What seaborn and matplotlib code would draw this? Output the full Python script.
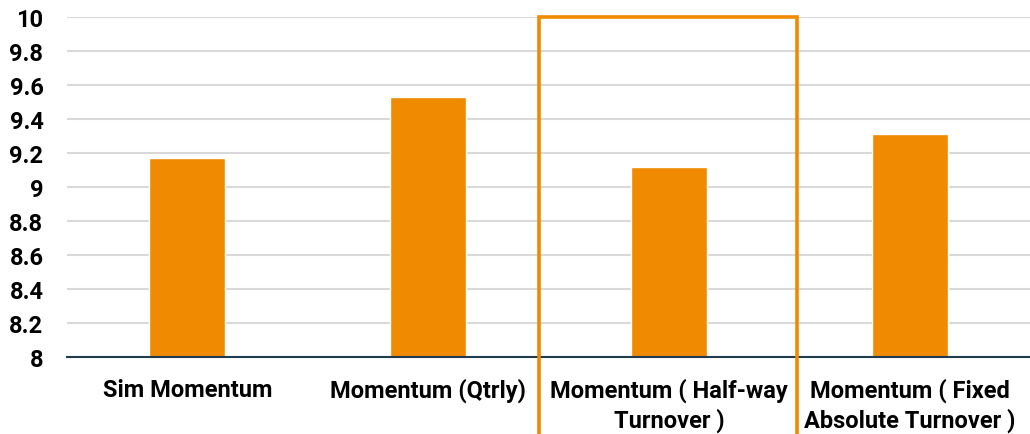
import matplotlib
matplotlib.use("Agg")
import matplotlib.pyplot as plt
from matplotlib.patches import Rectangle
import seaborn as sns
import pandas as pd

categories = [
    "Sim Momentum",
    "Momentum (Qtrly)",
    "Momentum ( Half-way\nTurnover )",
    "Momentum ( Fixed\nAbsolute Turnover )",
]
values = [9.17, 9.53, 9.12, 9.31]
y_ticks = [8, 8.2, 8.4, 8.6, 8.8, 9, 9.2, 9.4, 9.6, 9.8, 10]
y_tick_labels = ["8", "8.2", "8.4", "8.6", "8.8", "9", "9.2", "9.4", "9.6", "9.8", "10"]

ORANGE = "#F08A00"

sns.set_theme(style="white")
plt.rcParams["font.family"] = ["Roboto", "DejaVu Sans"]
plt.rcParams["font.weight"] = "bold"

df = pd.DataFrame({"strategy": categories, "value": values})

fig = plt.figure(figsize=(10.3, 4.35), dpi=100)
ax = fig.add_axes([67 / 1030, (435 - 358) / 435, (1030 - 67) / 1030, (358 - 18) / 435])

sns.barplot(data=df, x="strategy", y="value", color=ORANGE, saturation=1,
            width=0.315, ax=ax, zorder=3)

ax.set_xlim(-0.5, 3.5)
ax.set_ylim(8, 10)
ax.set_yticks(y_ticks)
ax.set_yticklabels(y_tick_labels)
ax.yaxis.grid(True, color="#d9d9d9", linewidth=1.5, zorder=0)
ax.set_axisbelow(True)
ax.set_xlabel("")
ax.set_ylabel("")

for side in ["top", "right", "left"]:
    ax.spines[side].set_visible(False)
ax.spines["bottom"].set_color("#1F3B4D")
ax.spines["bottom"].set_linewidth(1.5)
ax.spines["bottom"].set_zorder(4)

ax.tick_params(axis="y", length=0, pad=17, labelsize=17)
ax.tick_params(axis="x", length=0, pad=15, labelsize=17)
for lbl in ax.get_xticklabels() + ax.get_yticklabels():
    lbl.set_fontweight("bold")
    lbl.set_color("black")
for lbl in ax.get_xticklabels():
    lbl.set_linespacing(1.3)

# Highlight box around the half-way turnover category
ax.add_patch(Rectangle((1.462, 7.0), 2.533 - 1.462, 3.0, fill=False,
                       edgecolor=ORANGE, linewidth=2.6, clip_on=False, zorder=5))

fig.savefig("out.png", dpi=100)
